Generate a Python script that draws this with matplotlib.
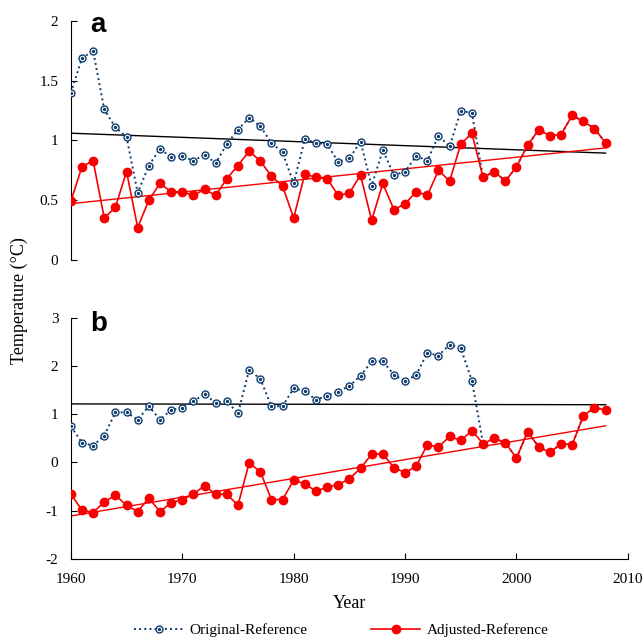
import numpy as np
import matplotlib
matplotlib.use('Agg')
import matplotlib.pyplot as plt
from matplotlib.legend_handler import HandlerTuple

plt.rcParams['font.family'] = ['Liberation Serif', 'DejaVu Serif']
plt.rcParams['axes.unicode_minus'] = False

years = np.arange(1960, 2009)

# panel a
a_adj = [0.49, 0.78, 0.83, 0.35, 0.44, 0.74, 0.27, 0.50, 0.64, 0.57,
         0.57, 0.54, 0.59, 0.54, 0.68, 0.79, 0.91, 0.83, 0.70, 0.62,
         0.35, 0.72, 0.69, 0.68, 0.54, 0.56, 0.71, 0.33, 0.64, 0.42,
         0.47, 0.57, 0.54, 0.75, 0.66, 0.97, 1.06, 0.69, 0.74, 0.66,
         0.78, 0.96, 1.09, 1.04, 1.05, 1.21, 1.16, 1.10, 0.98]
a_orig = [1.40, 1.69, 1.75, 1.26, 1.11, 1.03, 0.56, 0.79, 0.93, 0.86,
          0.87, 0.83, 0.88, 0.81, 0.97, 1.09, 1.19, 1.12, 0.98, 0.90,
          0.64, 1.01, 0.98, 0.97, 0.82, 0.85, 0.99, 0.62, 0.92, 0.71,
          0.74, 0.87, 0.83, 1.04, 0.95, 1.25, 1.23, 0.69, 0.74, 0.66,
          0.78, 0.96, 1.09, 1.04, 1.05, 1.21, 1.16, 1.10, 0.98]

# panel b
b_adj = [-0.66, -0.99, -1.04, -0.82, -0.68, -0.89, -1.02, -0.74, -1.02, -0.84,
         -0.77, -0.66, -0.48, -0.66, -0.66, -0.89, -0.01, -0.19, -0.77, -0.77,
         -0.37, -0.44, -0.60, -0.51, -0.46, -0.34, -0.12, 0.17, 0.18, -0.11,
         -0.21, -0.08, 0.37, 0.32, 0.54, 0.46, 0.66, 0.39, 0.50, 0.41,
         0.09, 0.64, 0.32, 0.21, 0.39, 0.37, 0.97, 1.14, 1.09]
b_orig = [0.75, 0.41, 0.35, 0.56, 1.04, 1.04, 0.89, 1.17, 0.89, 1.09,
          1.14, 1.27, 1.42, 1.24, 1.27, 1.02, 1.92, 1.74, 1.17, 1.17,
          1.54, 1.49, 1.30, 1.39, 1.47, 1.59, 1.80, 2.10, 2.10, 1.82,
          1.69, 1.82, 2.28, 2.22, 2.45, 2.37, 1.70, 0.39, 0.50, 0.41,
          0.09, 0.64, 0.32, 0.21, 0.39, 0.37, 0.97, 1.14, 1.09]

navy = '#0d3b6e'
red = '#f80000'

fig = plt.figure(figsize=(6.44, 6.40), dpi=100)
ax_a = fig.add_axes([0.110, 0.594, 0.865, 0.373])
ax_b = fig.add_axes([0.110, 0.127, 0.865, 0.376])


def draw(ax, orig, adj):
    orig = np.array(orig)
    adj = np.array(adj)
    ln_o, = ax.plot(years, orig, linestyle=':', color=navy, lw=1.4,
                    marker='o', ms=5, mfc='white', mec=navy, mew=1.0, zorder=3)
    dot, = ax.plot(years, orig, linestyle='none', marker='o', ms=1.4,
                   color=navy, zorder=4)
    ln_a, = ax.plot(years, adj, color=red, lw=1.2, marker='o', ms=6,
                    mfc=red, mec=red, zorder=5)
    # linear trends
    for s, c in ((orig, 'black'), (adj, red)):
        k, b = np.polyfit(years, s, 1)
        ax.plot(years[[0, -1]], k * years[[0, -1]] + b, color=c, lw=1.0, zorder=2)
    ax.set_xlim(1960, 2010)
    for sp in ('top', 'right'):
        ax.spines[sp].set_visible(False)
    ax.tick_params(direction='in', labelsize=11, length=4)
    ax.tick_params(axis='y', pad=9)
    ax.tick_params(axis='x', pad=10)
    return ln_o, dot, ln_a


h_o, h_d, h_a = draw(ax_a, a_orig, a_adj)
draw(ax_b, b_orig, b_adj)

ax_a.set_ylim(0, 2)
ax_a.set_yticks([0, 0.5, 1, 1.5, 2])
ax_a.set_yticklabels(['0', '0.5', '1', '1.5', '2'])
ax_a.spines['bottom'].set_visible(False)
ax_a.set_xticks([])

ax_b.set_ylim(-2, 3)
ax_b.set_yticks([-2, -1, 0, 1, 2, 3])
ax_b.set_xticks([1960, 1970, 1980, 1990, 2000, 2010])
ax_b.set_xlabel('Year', fontsize=13, labelpad=7)

ax_a.text(0.035, 0.985, 'a', transform=ax_a.transAxes, fontsize=20,
          fontweight='bold', family='Liberation Sans', va='center')
ax_b.text(0.035, 0.975, 'b', transform=ax_b.transAxes, fontsize=20,
          fontweight='bold', family='Liberation Sans', va='center')

fig.text(0.03, 0.53, 'Temperature (\u00b0C)', rotation=90, fontsize=13,
         ha='center', va='center')

fig.legend([(h_o, h_d), h_a], ['Original-Reference', 'Adjusted-Reference'],
           handler_map={tuple: HandlerTuple(ndivide=1, pad=0)},
           loc='lower center', bbox_to_anchor=(0.53, -0.009), ncol=2,
           frameon=False, fontsize=11, columnspacing=4.2, handlelength=3.2,
           handletextpad=0.4, borderpad=0.05)

fig.savefig('out.png', dpi=100)
